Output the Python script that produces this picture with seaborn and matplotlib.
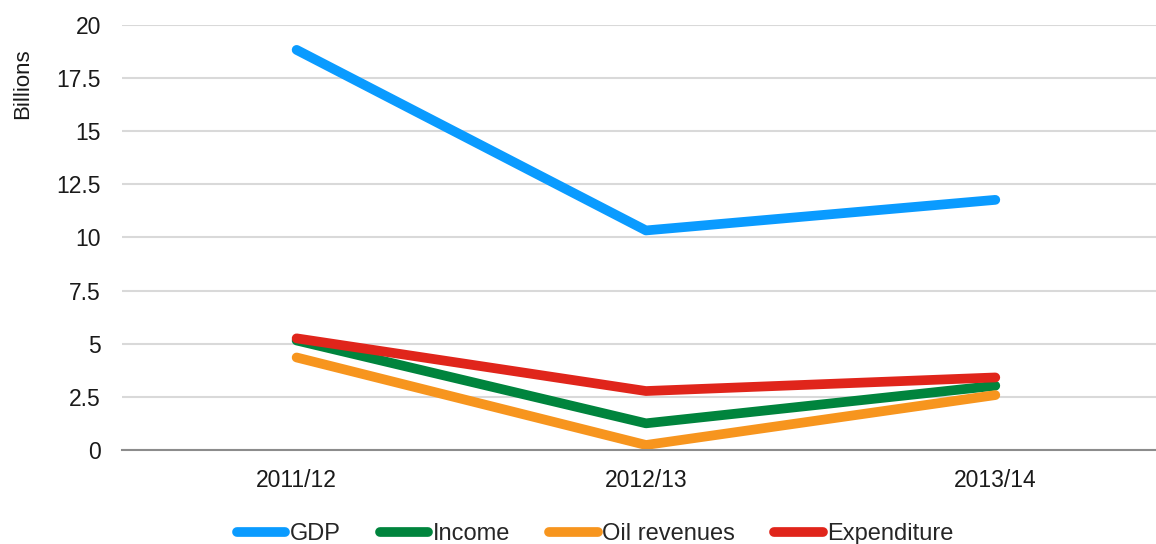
import numpy as np
import pandas as pd
import seaborn as sns
import matplotlib.pyplot as plt

years = ["2011/12", "2012/13", "2013/14"]
gdp = [18.83, 10.33, 11.77]
income = [5.15, 1.25, 3.02]
oil_revenues = [4.35, 0.23, 2.58]
expenditure = [5.25, 2.77, 3.41]

series = ["GDP", "Income", "Oil revenues", "Expenditure"]
colors = ["#0a9bff", "#00843d", "#f7951e", "#e0251b"]

df = pd.DataFrame({"Year": years, "GDP": gdp, "Income": income,
                   "Oil revenues": oil_revenues, "Expenditure": expenditure})
long_df = df.melt(id_vars="Year", var_name="Series", value_name="Value")

sns.set_style("white")
plt.rcParams['font.family'] = ['Liberation Sans', 'DejaVu Sans']

fig = plt.figure(figsize=(11.56, 5.44), dpi=100)
ax = fig.add_axes([0.1055, 0.173, 0.8945, 0.781])

sns.lineplot(ax=ax, data=long_df, x="Year", y="Value", hue="Series",
             hue_order=series, palette=colors, linewidth=7,
             solid_capstyle="round", sort=False)

ax.set_xlim(-0.5, 2.46)
ax.set_ylim(0, 20)
ax.set_yticks(np.arange(0, 20.1, 2.5))
ax.set_yticklabels(["0", "2.5", "5", "7.5", "10", "12.5", "15", "17.5", "20"])
ax.grid(axis="y", color="#d9d9d9", linewidth=1.5)
ax.set_axisbelow(True)
for s in ["top", "right", "left"]:
    ax.spines[s].set_visible(False)
ax.spines["bottom"].set_color("#8c8c8c")
ax.spines["bottom"].set_linewidth(1.5)
ax.tick_params(axis="both", length=0, labelsize=16.5, colors="#1a1a1a")
ax.tick_params(axis="y", pad=15)
ax.tick_params(axis="x", pad=14)
ax.set_xlabel("")
ax.set_ylabel("Billions", fontsize=16, color="#1a1a1a")
ax.yaxis.set_label_coords(-0.086, 0.862)

handles, labels = ax.get_legend_handles_labels()
for h in handles:
    h.set_solid_capstyle("round")
ax.legend_.remove()
fig.legend(handles, labels, loc="center", bbox_to_anchor=(0.515, 0.018),
           ncol=4, frameon=False, fontsize=17, handlelength=2.05,
           handletextpad=0.2, columnspacing=1.65, borderaxespad=0)

fig.savefig("out.png", dpi=100)
